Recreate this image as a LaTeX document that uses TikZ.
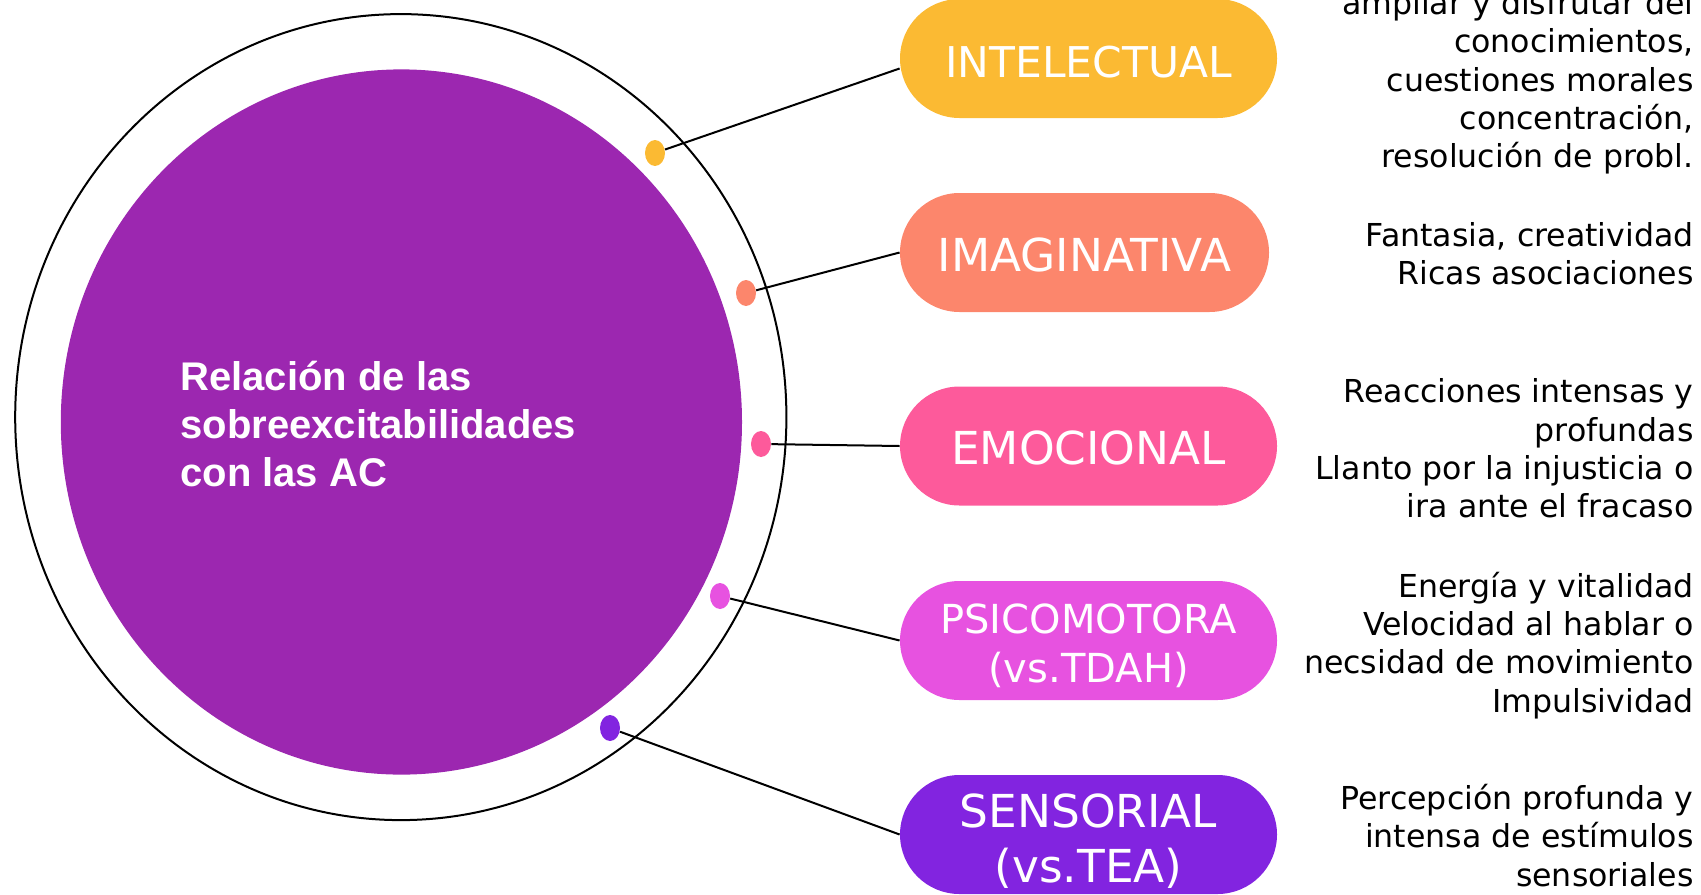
\documentclass[tikz,border=0pt]{standalone}
\usepackage{fontspec}
\setmainfont{DejaVu Sans}
\newfontfamily\titlefont{Liberation Sans}
\usetikzlibrary{shapes.geometric}
\definecolor{cPurple}{HTML}{9C27B0}
\definecolor{cYellow}{HTML}{FBBA33}
\definecolor{cSalmon}{HTML}{FC866C}
\definecolor{cPink}{HTML}{FD5A9B}
\definecolor{cMagenta}{HTML}{E752E0}
\definecolor{cViolet}{HTML}{8224E0}
\newcommand\lowtxt[2]{\raisebox{#1}[\height][\depth]{#2}}
\begin{document}
\begin{tikzpicture}[x=0.5pt,y=-0.5pt,
  pill/.style={rectangle, rounded corners=29.75pt, minimum width=188.5pt, minimum height=59.5pt, inner sep=0pt, text=white, align=center, font=\fontsize{22.7pt}{27pt}\selectfont},
  dotmark/.style={ellipse, minimum width=10pt, minimum height=13pt, inner sep=0pt},
  link/.style={draw=black, line width=1pt},
  desc/.style={anchor=east, align=right, inner sep=0pt, font=\fontsize{15.8pt}{19.15pt}\selectfont}]
\useasboundingbox (0,0) rectangle (1701,894);
\clip (0,0) rectangle (1701,894);
% circles
\node[ellipse, draw=black, line width=1pt, minimum width=385.6pt, minimum height=403pt, inner sep=0pt] (outer) at (400.8,417.1) {};
\node[ellipse, fill=cPurple, minimum width=340.6pt, minimum height=352.6pt, inner sep=0pt] (inner) at (401.4,422) {};
\node[anchor=west, align=left, text=white, inner sep=0pt, font=\titlefont\bfseries\fontsize{20pt}{23.85pt}\selectfont] (title) at (180,424) {Relación de las\\sobreexcitabilidades\\con las AC};
% pills
\node[pill, fill=cYellow, font=\fontsize{21.2pt}{26pt}\selectfont] (p1) at (1088.5,58.5) {\lowtxt{-1.6pt}{INTELECTUAL}};
\node[pill, fill=cSalmon, minimum width=184.5pt] (p2) at (1084.5,252.5) {\lowtxt{-1.1pt}{IMAGINATIVA}};
\node[pill, fill=cPink] (p3) at (1088.5,446) {\lowtxt{-1.1pt}{EMOCIONAL}};
\node[pill, fill=cMagenta, font=\fontsize{20pt}{24.5pt}\selectfont] (p4) at (1088.5,640.5) {\lowtxt{-2.6pt}{PSICOMOTORA}\\\lowtxt{-2.6pt}{(vs.TDAH)}};
\node[pill, fill=cViolet, font=\fontsize{22.7pt}{27.5pt}\selectfont] (p5) at (1088.5,834.5) {\lowtxt{-3.1pt}{SENSORIAL}\\\lowtxt{-3.1pt}{(vs.TEA)}};
% dots
\node[dotmark, fill=cYellow] (d1) at (655,153) {};
\node[dotmark, fill=cSalmon] (d2) at (746,293) {};
\node[dotmark, fill=cPink] (d3) at (761,444) {};
\node[dotmark, fill=cMagenta] (d4) at (720,596) {};
\node[dotmark, fill=cViolet] (d5) at (610,728) {};
% connectors
\draw[link] (d1) -- ([yshift=-5pt]p1.west);
\draw[link] (d2) -- (p2.west);
\draw[link] (d3) -- (p3.west);
\draw[link] (d4) -- (p4.west);
\draw[link] (d5) -- (p5.west);
% descriptions
\node[desc] (t1) at (1694,82.3) {ampliar y disfrutar del\\conocimientos,\\cuestiones morales\\concentración,\\resolución de probl.};
\node[desc] (t2) at (1694,254) {Fantasia, creatividad\\Ricas asociaciones};
\node[desc] (t3) at (1694,448.5) {Reacciones intensas y\\profundas\\Llanto por la injusticia o\\ira ante el fracaso};
\node[desc] (t4) at (1694,645.3) {Energía y vitalidad\\Velocidad al hablar o\\necsidad de movimiento\\Impulsividad};
\node[desc] (t5) at (1694,835.5) {Percepción profunda y\\intensa de estímulos\\sensoriales};
\end{tikzpicture}
\end{document}
